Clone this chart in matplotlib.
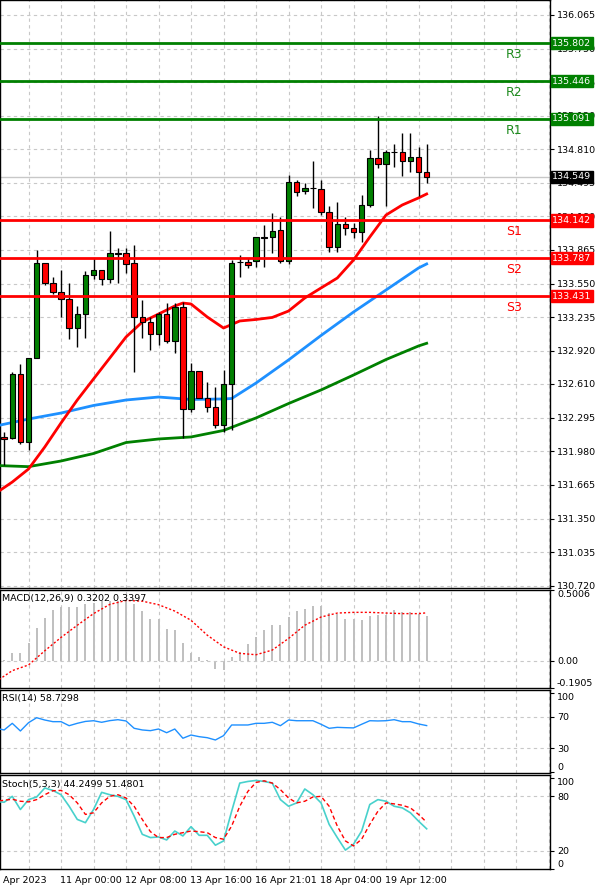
import matplotlib
matplotlib.use("Agg")
import matplotlib.pyplot as plt

# ---- data (4H candles) ----
candle_idx = list(range(1, 54))
opens = [132.116, 132.102, 132.704, 132.064, 132.856, 133.746, 133.553, 133.471, 133.403, 133.137,
         133.263, 133.631, 133.677, 133.590, 133.827, 133.839, 133.740, 133.240, 133.188, 133.081,
         133.263, 133.015, 133.328, 132.376, 132.732, 132.482, 132.397, 132.226, 132.607, 133.752,
         133.755, 133.760, 133.977, 133.984, 134.049, 133.764, 134.504, 134.417, 134.442, 134.433,
         134.218, 133.890, 134.105, 134.071, 134.030, 134.286, 134.723, 134.667, 134.779, 134.785,
         134.701, 134.733, 134.598]
highs = [132.163, 132.722, 132.794, 132.856, 133.865, 133.746, 133.615, 133.677, 133.558, 133.340,
         133.668, 133.793, 133.677, 134.043, 133.886, 133.881, 133.911, 133.396, 133.240, 133.287,
         133.366, 133.366, 133.381, 132.804, 132.732, 132.631, 132.585, 132.741, 133.771, 133.818,
         133.787, 133.984, 134.099, 134.214, 134.171, 134.567, 134.520, 134.495, 134.700, 134.520,
         134.277, 134.317, 134.176, 134.115, 134.380, 134.801, 135.122, 134.801, 134.854, 134.963,
         134.963, 134.826, 134.854]
lows = [131.852, 132.095, 132.048, 131.992, 132.856, 133.537, 133.453, 133.240, 133.028, 132.959,
        133.038, 133.590, 133.537, 133.553, 133.553, 133.646, 132.725, 133.038, 132.928, 132.975,
        132.997, 132.897, 132.102, 132.345, 132.475, 132.351, 132.195, 132.163, 132.179, 133.615,
        133.693, 133.708, 133.703, 133.834, 133.740, 133.734, 134.370, 134.390, 134.255, 134.192,
        133.849, 133.849, 134.005, 133.974, 133.942, 134.270, 134.635, 134.277, 134.645, 134.558,
        134.598, 134.370, 134.495]
closes = [132.098, 132.704, 132.064, 132.856, 133.746, 133.553, 133.471, 133.403, 133.137, 133.263,
          133.631, 133.677, 133.590, 133.839, 133.839, 133.731, 133.240, 133.188, 133.081, 133.263,
          133.015, 133.328, 132.376, 132.732, 132.482, 132.397, 132.226, 132.607, 133.746, 133.755,
          133.724, 133.984, 133.984, 134.043, 133.764, 134.504, 134.411, 134.442, 134.442, 134.223,
          133.890, 134.105, 134.073, 134.030, 134.286, 134.723, 134.667, 134.779, 134.785, 134.701,
          134.733, 134.598, 134.549]

ma_red_idx = [0, 2, 4, 6, 8, 10, 12, 14, 16, 18, 20, 22, 23, 24, 26, 28, 30, 32, 34, 36, 38, 40,
              42, 44, 46, 48, 50, 52, 53]
ma_red = [131.589, 131.692, 131.814, 132.020, 132.245, 132.460, 132.657, 132.853, 133.050, 133.190,
          133.265, 133.340, 133.368, 133.359, 133.237, 133.134, 133.200, 133.214, 133.233, 133.293,
          133.415, 133.509, 133.602, 133.771, 133.986, 134.192, 134.286, 134.352, 134.389]
ma_blue_idx = [0, 4, 8, 12, 16, 20, 24, 28, 29, 32, 36, 40, 44, 48, 52, 53]
ma_blue = [132.217, 132.282, 132.338, 132.409, 132.460, 132.488, 132.465, 132.470, 132.474, 132.619,
           132.835, 133.064, 133.284, 133.490, 133.696, 133.734]
ma_green_idx = [0, 4, 8, 12, 16, 20, 24, 28, 32, 36, 40, 44, 48, 52, 53]
ma_green = [131.847, 131.836, 131.889, 131.959, 132.062, 132.095, 132.114, 132.175, 132.292, 132.427,
            132.554, 132.694, 132.839, 132.966, 132.991]

res_levels = [135.802, 135.446, 135.091]
res_names = ["R3", "R2", "R1"]
sup_levels = [134.142, 133.787, 133.431]
sup_names = ["S1", "S2", "S3"]
last_price = 134.549

price_ticks = [136.065, 135.750, 135.435, 135.120, 134.810, 134.495, 134.180, 133.865, 133.550,
               133.235, 132.920, 132.610, 132.295, 131.980, 131.665, 131.350, 131.035, 130.720]

macd_hist = [0.010, 0.058, 0.058, 0.124, 0.236, 0.306, 0.357, 0.380, 0.380, 0.380, 0.399, 0.411,
             0.420, 0.422, 0.422, 0.422, 0.399, 0.350, 0.299, 0.299, 0.229, 0.217, 0.128, 0.058,
             0.026, 0.005, -0.058, -0.063, 0.026, 0.065, 0.117, 0.170, 0.217, 0.252, 0.252, 0.310,
             0.350, 0.369, 0.385, 0.385, 0.341, 0.334, 0.299, 0.299, 0.292, 0.315, 0.322, 0.322,
             0.357, 0.345, 0.345, 0.334, 0.320]
macd_sig_idx = list(range(0, 54, 2)) + [53]
macd_sig = [-0.145, -0.068, -0.028, 0.072, 0.166, 0.252, 0.334, 0.399, 0.427, 0.422, 0.397, 0.352,
            0.287, 0.182, 0.100, 0.054, 0.044, 0.077, 0.159, 0.252, 0.310, 0.338, 0.343, 0.343,
            0.338, 0.334, 0.334, 0.3397]

ind_idx = list(range(0, 54))
rsi = [55.3, 53.2, 61.6, 51.9, 62.4, 68.7, 65.8, 63.7, 63.7, 58.6, 61.6, 64.0, 64.9, 62.9, 65.0,
       66.2, 64.6, 55.3, 53.2, 52.3, 54.4, 49.7, 54.4, 42.7, 46.8, 44.7, 43.4, 40.5, 46.0, 59.5,
       59.5, 59.5, 61.6, 61.6, 62.9, 58.6, 65.8, 64.9, 64.9, 64.9, 60.4, 55.3, 56.5, 56.1, 55.8,
       60.4, 64.9, 64.6, 64.9, 66.2, 63.7, 63.7, 60.8, 58.73]
stoch_k = [74.6, 73.5, 80.0, 65.5, 76.4, 79.3, 89.2, 86.5, 81.8, 69.1, 54.6, 51.0, 65.5, 84.4, 81.8,
           80.0, 76.4, 58.2, 38.2, 34.6, 35.3, 32.0, 41.8, 36.4, 46.6, 37.1, 37.1, 26.2, 30.9, 63.6,
           94.6, 96.4, 97.5, 96.4, 94.6, 76.4, 69.1, 72.8, 88.1, 81.8, 72.8, 49.1, 34.6, 20.8, 27.3,
           41.8, 71.0, 76.4, 74.6, 69.1, 67.3, 61.9, 52.7, 44.25]
stoch_d = [74.6, 75.7, 76.8, 74.6, 73.9, 76.4, 81.8, 86.2, 86.5, 81.8, 72.8, 60.1, 61.9, 72.8, 80.0,
           81.8, 78.2, 69.1, 54.6, 41.1, 34.6, 34.6, 38.2, 40.0, 41.8, 41.1, 40.0, 34.6, 32.8, 47.3,
           69.1, 85.5, 95.3, 97.1, 94.6, 87.4, 78.2, 72.8, 74.6, 79.3, 80.0, 69.1, 47.3, 30.9, 25.4,
           32.8, 49.1, 63.6, 72.8, 71.7, 70.2, 67.3, 60.1, 51.48]

date_idx = [0, 8, 16, 24, 32, 40, 48]
date_labels = ["10 Apr 2023", "11 Apr 00:00", "12 Apr 08:00", "13 Apr 16:00",
               "16 Apr 21:01", "18 Apr 04:00", "19 Apr 12:00"]

# ---- layout ----
plt.rcParams["font.family"] = ["DejaVu Sans"]
GRID = "#C8C8C8"
FS = 6.8
XLIM = (0.49, 68.18)
vgrid = list(range(4, 69, 4))

fig = plt.figure(figsize=(6, 8.91), dpi=100)
ax = fig.add_axes([0, 0.34007, 0.91667, 0.65993])
ax_macd = fig.add_axes([0, 0.22783, 0.91667, 0.10999])
ax_rsi = fig.add_axes([0, 0.13244, 0.91667, 0.09315])
ax_st = fig.add_axes([0, 0.02469, 0.91667, 0.1055])


def style(a):
    a.set_xlim(*XLIM)
    a.set_xticks(vgrid)
    a.tick_params(axis="x", length=0, labelbottom=False)
    a.yaxis.tick_right()
    a.tick_params(axis="y", length=3, labelsize=FS, pad=2, colors="black")
    for s in a.spines.values():
        s.set_color("black")
        s.set_linewidth(1)
    a.grid(True, axis="x", color=GRID, linestyle=(0, (3, 3)), linewidth=0.8)


for a in (ax, ax_macd, ax_rsi, ax_st):
    style(a)

# ---- main price panel ----
ax.set_ylim(130.700, 136.205)
ax.set_yticks(price_ticks)
ax.set_yticklabels([f"{t:.3f}" for t in price_ticks])
ax.grid(True, axis="y", color=GRID, linestyle=(0, (3, 3)), linewidth=0.8)

ax.axhline(last_price, color="#C8C8C8", lw=1, zorder=1)

ax.plot(ma_green_idx, ma_green, color="#008000", lw=2, zorder=3)
ax.plot(ma_blue_idx, ma_blue, color="#1E90FF", lw=2, zorder=3)
ax.plot(ma_red_idx, ma_red, color="#FF0000", lw=2, zorder=3)

ax.vlines(candle_idx, lows, highs, colors="black", lw=1, zorder=4)
bottoms = [min(o, c) for o, c in zip(opens, closes)]
heights = [abs(c - o) for o, c in zip(opens, closes)]
colors = []
for o, c in zip(opens, closes):
    if abs(c - o) < 0.015:
        colors.append("black")
    elif c > o:
        colors.append("#008000")
    else:
        colors.append("#FF0000")
ax.bar(candle_idx, heights, bottom=bottoms, width=0.68, color=colors,
       edgecolor="black", linewidth=0.8, zorder=5)

for lvl, name in zip(res_levels, res_names):
    ax.axhline(lvl, color="#008000", lw=2, zorder=6)
    ax.text(63.7, lvl - 0.105, name, color="#1E8B1E", fontsize=9, ha="center", va="center")
for lvl, name in zip(sup_levels, sup_names):
    ax.axhline(lvl, color="#FF0000", lw=2, zorder=6)
    ax.text(63.7, lvl - 0.105, name, color="#FF0000", fontsize=9, ha="center", va="center")

# price tags on the right axis (they sit on top of the tick labels, as in the terminal)
tags = [(l, "#008000") for l in res_levels] + [(l, "#FF0000") for l in sup_levels] + [(last_price, "black")]
for lvl, col in tags:
    ax.text(1.004, lvl, f"{lvl:.3f}", transform=ax.get_yaxis_transform(), color="white",
            fontsize=FS, ha="left", va="center", clip_on=False, zorder=10,
            bbox=dict(boxstyle="square,pad=0.18", fc=col, ec=col))

# ---- MACD ----
ax_macd.set_ylim(-0.1905, 0.5006)
ax_macd.bar(candle_idx, macd_hist, width=0.25, color="#C0C0C0", zorder=2)
ax_macd.plot(macd_sig_idx, macd_sig, color="#FF0000", lw=1, linestyle=(0, (1.5, 1.5)), zorder=3)
ax_macd.axhline(0, color=GRID, linestyle=(0, (3, 3)), lw=0.8)
ax_macd.set_yticks([0.5006, 0.0, -0.1905])
ax_macd.set_yticklabels(["0.5006", "0.00", "-0.1905"])
lbl = ax_macd.get_yticklabels()
lbl[0].set_va("top")
lbl[2].set_va("bottom")
ax_macd.text(0.003, 0.96, "MACD(12,26,9) 0.3202 0.3397", transform=ax_macd.transAxes,
             fontsize=FS, va="top", ha="left")

# ---- RSI ----
ax_rsi.set_ylim(-1.3, 103.8)
ax_rsi.plot(ind_idx, rsi, color="#1E90FF", lw=1, zorder=3)
for lv in (70, 30):
    ax_rsi.axhline(lv, color=GRID, linestyle=(0, (3, 3)), lw=0.8)
ax_rsi.set_yticks([100, 70, 30, 0])
ax_rsi.set_yticklabels(["100", "70", "30", "0"])
lbl = ax_rsi.get_yticklabels()
lbl[0].set_va("top")
lbl[3].set_va("bottom")
ax_rsi.text(0.003, 0.95, "RSI(14) 58.7298", transform=ax_rsi.transAxes,
            fontsize=FS, va="top", ha="left")

# ---- Stochastic ----
ax_st.set_ylim(0, 103.5)
ax_st.plot(ind_idx, stoch_k, color="#48D1CC", lw=1.2, zorder=3)
ax_st.plot(ind_idx, stoch_d, color="#FF0000", lw=1, linestyle=(0, (3, 2)), zorder=4)
for lv in (80, 20):
    ax_st.axhline(lv, color=GRID, linestyle=(0, (3, 3)), lw=0.8)
ax_st.set_yticks([100, 80, 20, 0])
ax_st.set_yticklabels(["100", "80", "20", "0"])
lbl = ax_st.get_yticklabels()
lbl[0].set_va("top")
lbl[3].set_va("bottom")
ax_st.text(0.003, 0.95, "Stoch(5,3,3) 44.2499 51.4801", transform=ax_st.transAxes,
           fontsize=FS, va="top", ha="left")

# date labels start at their bar; the first one runs off the left edge
for i, lab in zip(date_idx, date_labels):
    shift = -1.0 if i == 0 else -0.1
    ax_st.text(i + shift, -0.125, lab, transform=ax_st.get_xaxis_transform(),
               fontsize=FS, ha="left", va="center", clip_on=False)

fig.savefig("out.png", dpi=100, facecolor="white")
